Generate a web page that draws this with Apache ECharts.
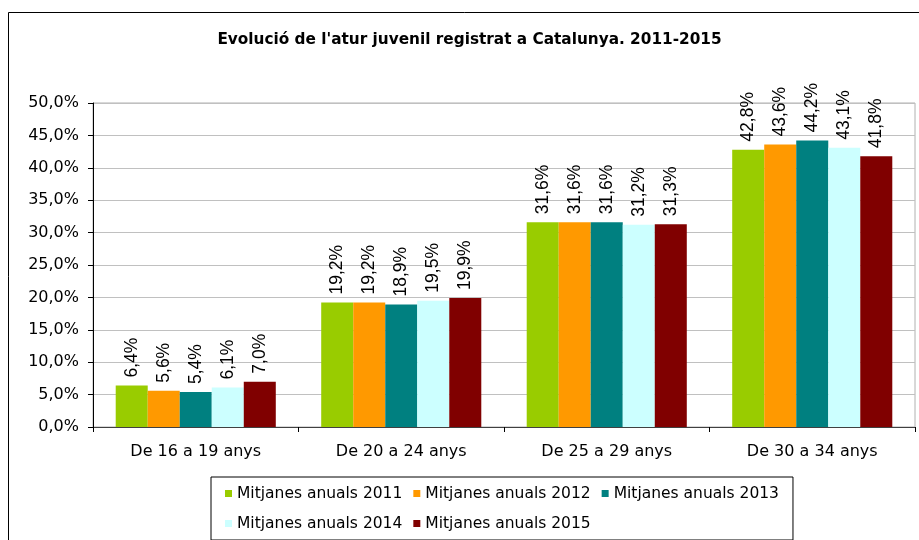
<!DOCTYPE html>
<html>
<head>
<meta charset="utf-8">
<script src="https://cdn.jsdelivr.net/npm/echarts@6/dist/echarts.min.js"></script>
<style>html,body{margin:0;padding:0;background:#fff}#c{width:919px;height:540px}</style>
</head>
<body>
<div id="c"></div>
<script>
const categories = ['De 16 a 19 anys', 'De 20 a 24 anys', 'De 25 a 29 anys', 'De 30 a 34 anys'];
const seriesNames = ['Mitjanes anuals 2011', 'Mitjanes anuals 2012', 'Mitjanes anuals 2013', 'Mitjanes anuals 2014', 'Mitjanes anuals 2015'];
const values2011 = [6.4, 19.2, 31.6, 42.8];
const values2012 = [5.6, 19.2, 31.6, 43.6];
const values2013 = [5.4, 18.9, 31.6, 44.2];
const values2014 = [6.1, 19.5, 31.2, 43.1];
const values2015 = [7.0, 19.9, 31.3, 41.8];
const colors = ['#99CC00', '#FF9900', '#008080', '#CCFFFF', '#800000'];

const fmt = v => v.toFixed(1).replace('.', ',') + '%';
const FONT = 'DejaVu Sans';
const allValues = [values2011, values2012, values2013, values2014, values2015];

const chart = echarts.init(document.getElementById('c'), null, {renderer: 'canvas'});
chart.setOption({
  animation: false,
  backgroundColor: '#fff',
  color: colors,
  title: {
    text: "Evolució de l'atur juvenil registrat a Catalunya. 2011-2015",
    left: 469.5, top: 33, padding: 0, textAlign: 'center',
    textStyle: {fontFamily: FONT, fontWeight: 'bold', fontSize: 15.3, color: '#000'}
  },
  graphic: [{
    type: 'rect', silent: true, z: -1,
    shape: {x: 8.5, y: 12.5, width: 1000, height: 1000},
    style: {fill: 'none', stroke: '#000', lineWidth: 1}
  }],
  legend: {
    left: 211, top: 477, width: 560,
    padding: [7, 14, 7, 14],
    borderColor: '#000', borderWidth: 1, backgroundColor: '#fff',
    itemWidth: 7, itemHeight: 7, itemGap: 11,
    icon: 'rect',
    textStyle: {fontFamily: FONT, fontSize: 15.5, color: '#000', lineHeight: 19},
    data: seriesNames
  },
  grid: {
    left: 93, right: 4, top: 103, bottom: 113,
    show: true, borderColor: '#B0B0B0', borderWidth: 1
  },
  xAxis: {
    type: 'category', data: categories,
    axisLine: {lineStyle: {color: '#404040', width: 1}},
    axisTick: {show: true, alignWithLabel: false, length: 5, lineStyle: {color: '#000'}},
    axisLabel: {fontFamily: FONT, fontSize: 16, color: '#000', margin: 17}
  },
  yAxis: {
    type: 'value', min: 0, max: 50, interval: 5,
    axisLine: {show: true, lineStyle: {color: '#000'}},
    axisTick: {show: true, length: 5, lineStyle: {color: '#000'}},
    splitLine: {lineStyle: {color: '#C0C0C0'}},
    axisLabel: {fontFamily: FONT, fontSize: 16, color: '#000', margin: 14, formatter: fmt}
  },
  series: seriesNames.map((name, i) => ({
    name, type: 'bar', data: allValues[i],
    barGap: '0%', barCategoryGap: '22.1%',
    itemStyle: {color: colors[i]},
    label: {
      show: true, position: 'top', rotate: 90, distance: 8,
      align: 'left', verticalAlign: 'middle',
      fontFamily: 'Liberation Sans', fontSize: 17.5, color: '#000',
      formatter: p => fmt(p.value)
    }
  }))
});
</script>
</body>
</html>
